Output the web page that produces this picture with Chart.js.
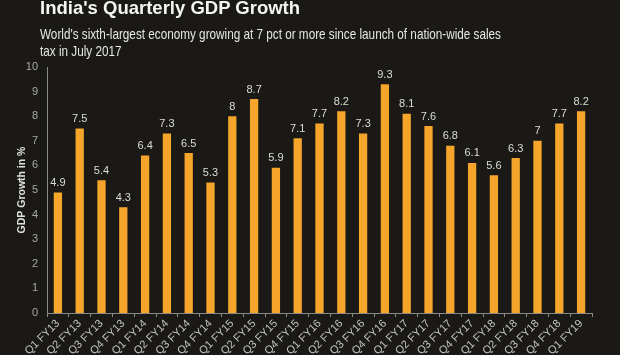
<!DOCTYPE html>
<html>
<head>
<meta charset="utf-8">
<script src="https://cdn.jsdelivr.net/npm/chart.js@4/dist/chart.umd.min.js"></script>
<style>
  html, body { margin: 0; padding: 0; background: #1b1916; }
  #wrap { position: relative; width: 620px; height: 355px; overflow: hidden; background: #1b1916; }
  #title { position: absolute; left: 40px; top: -3px; font: bold 18.5px "Liberation Sans", Arial, sans-serif; color: #f4f4f4; white-space: nowrap; }
  .sub { position: absolute; left: 40px; font: 14.5px/17px "Liberation Sans", Arial, sans-serif; color: #e6e6e6; white-space: nowrap; transform-origin: 0 0; }
  canvas { position: absolute; left: 0; top: 0; }
</style>
</head>
<body>
<div id="wrap">
  <canvas id="c" width="620" height="355"></canvas>
  <div id="title">India's Quarterly GDP Growth</div>
  <div class="sub" id="sub1" style="top:26px">World's sixth-largest economy growing at 7 pct or more since launch of nation-wide sales</div>
  <div class="sub" id="sub2" style="top:43px">tax in July 2017</div>
</div>
<script>
const categories = ["Q1 FY13","Q2 FY13","Q3 FY13","Q4 FY13","Q1 FY14","Q2 FY14","Q3 FY14","Q4 FY14","Q1 FY15","Q2 FY15","Q3 FY15","Q4 FY15","Q1 FY16","Q2 FY16","Q3 FY16","Q4 FY16","Q1 FY17","Q2 FY17","Q3 FY17","Q4 FY17","Q1 FY18","Q2 FY18","Q3 FY18","Q4 FY18","Q1 FY19"];
const gdpGrowth = [4.9,7.5,5.4,4.3,6.4,7.3,6.5,5.3,8,8.7,5.9,7.1,7.7,8.2,7.3,9.3,8.1,7.6,6.8,6.1,5.6,6.3,7,7.7,8.2];
const yTicks = [0,1,2,3,4,5,6,7,8,9,10];

// condense subtitle horizontally like the reference
const s1 = document.getElementById('sub1');
const s2 = document.getElementById('sub2');
const k = 461 / s1.getBoundingClientRect().width;
s1.style.transform = 'scaleX(' + k + ')';
s2.style.transform = 'scaleX(' + k + ')';

const valueLabels = {
  id: 'valueLabels',
  afterDatasetsDraw(chart) {
    const ctx = chart.ctx;
    const meta = chart.getDatasetMeta(0);
    ctx.save();
    ctx.font = '11px "Liberation Sans", Arial, sans-serif';
    ctx.fillStyle = '#dcdcdc';
    ctx.textAlign = 'center';
    ctx.textBaseline = 'bottom';
    meta.data.forEach((el, i) => {
      ctx.fillText(String(gdpGrowth[i]), el.x, el.y - 4);
    });
    ctx.restore();
  }
};

new Chart(document.getElementById('c'), {
  type: 'bar',
  data: {
    labels: categories,
    datasets: [{
      data: gdpGrowth,
      backgroundColor: '#f6a52b',
      categoryPercentage: 1,
      barPercentage: 0.38
    }]
  },
  options: {
    responsive: false,
    animation: false,
    layout: { padding: { top: 67, right: 28, left: 0, bottom: 0 } },
    plugins: { legend: { display: false }, tooltip: { enabled: false } },
    scales: {
      x: {
        afterFit(s) { s.height = 42; },
        grid: { display: true, drawOnChartArea: false, color: '#8a8a8a', tickLength: 4, offset: true },
        border: { display: true, color: '#8a8a8a' },
        ticks: {
          autoSkip: false, minRotation: 45, maxRotation: 45,
          color: '#c4c4c4', padding: 0,
          font: { family: '"Liberation Sans", Arial, sans-serif', size: 11 }
        }
      },
      y: {
        min: 0, max: 10,
        afterFit(s) { s.width = 47; },
        afterBuildTicks(s) { s.ticks = yTicks.map(v => ({ value: v })); },
        grid: { display: false, drawTicks: false },
        border: { display: true, color: '#8a8a8a' },
        ticks: {
          color: '#a8a8a8', padding: 9,
          font: { family: '"Liberation Sans", Arial, sans-serif', size: 11 }
        },
        title: {
          display: true, text: 'GDP Growth in %', color: '#e0e0e0',
          padding: { top: 16, bottom: 0 },
          font: { family: '"Liberation Sans", Arial, sans-serif', size: 10.5, weight: 'bold' }
        }
      }
    }
  },
  plugins: [valueLabels]
});
</script>
</body>
</html>
